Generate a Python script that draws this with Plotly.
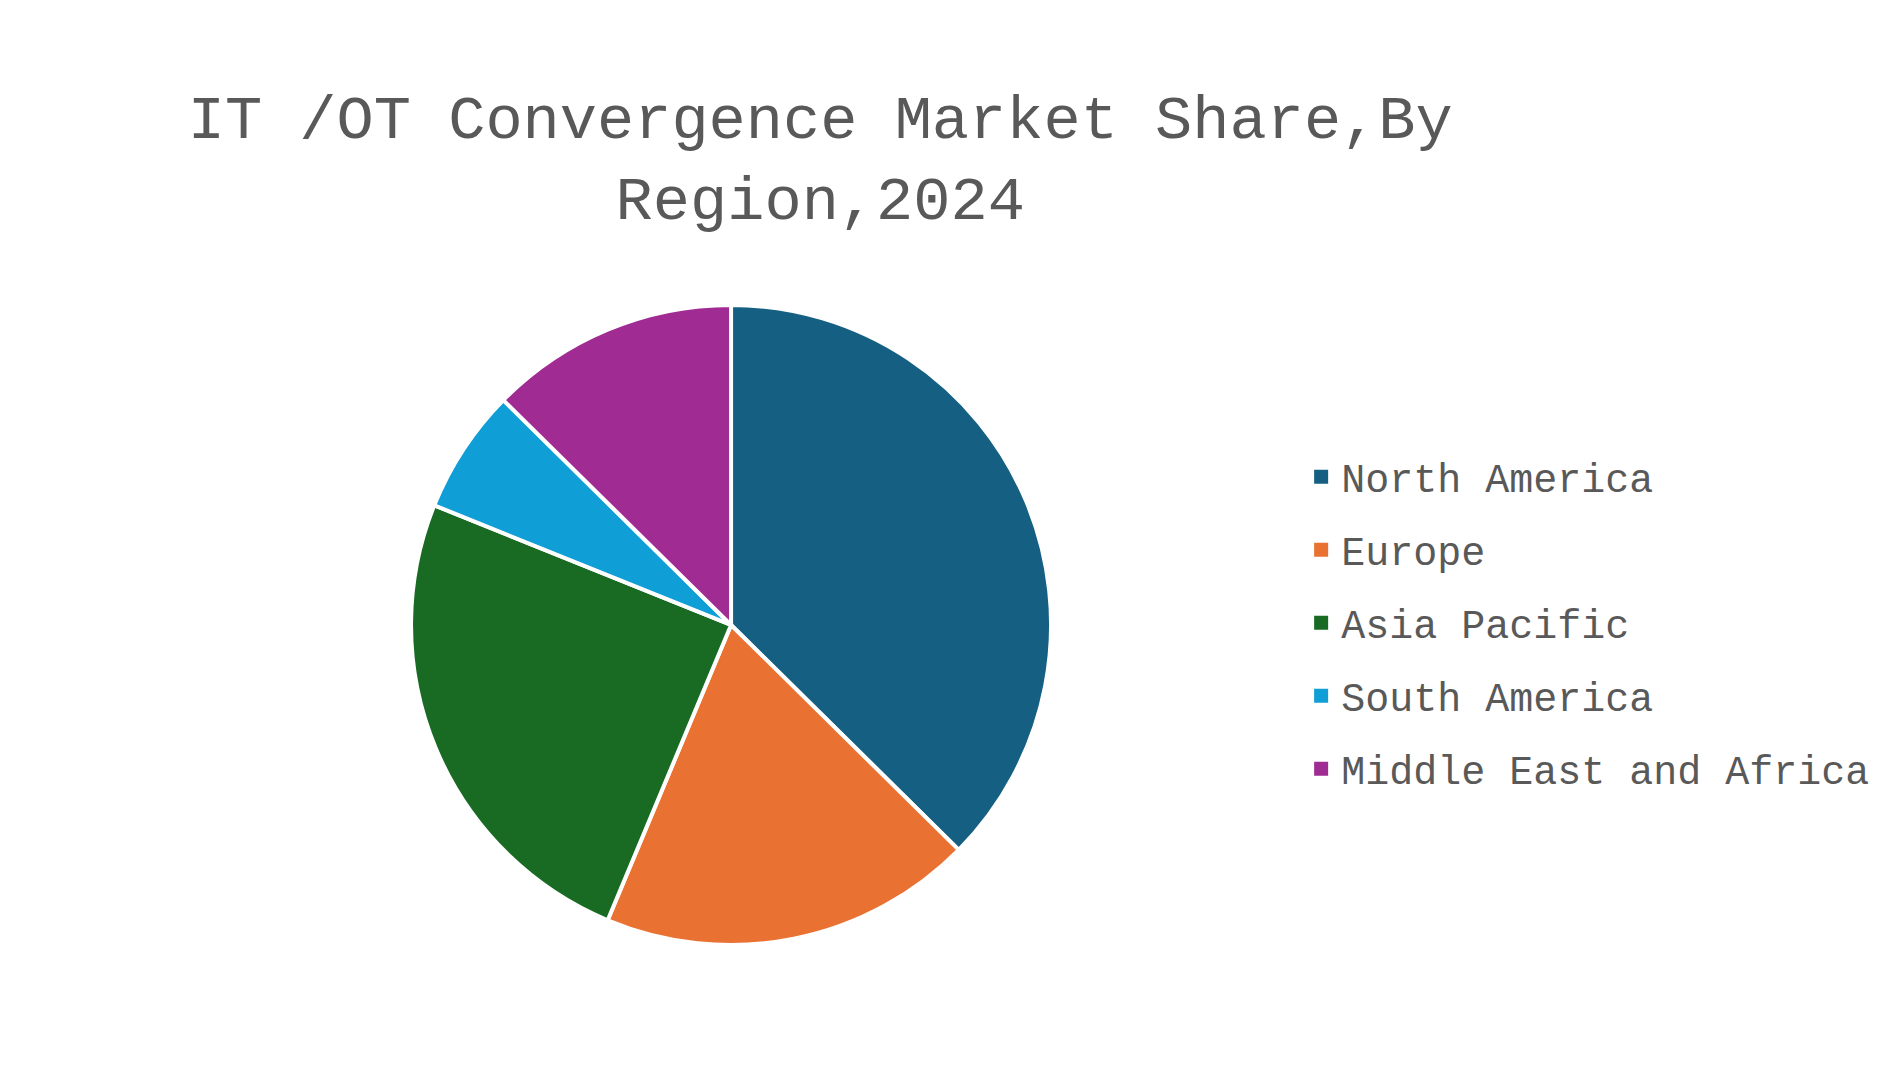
import plotly.graph_objects as go

regions = ['North America', 'Europe', 'Asia Pacific', 'South America',
           'Middle East and Africa']
share = [37.4, 18.9, 24.8, 6.3, 12.6]
colors = ['#156082', '#E97132', '#196B24', '#0F9ED5', '#A02B93']

title_text = 'IT /OT Convergence Market Share,By<br>Region,2024'
font_name = 'Liberation Mono, Courier New, monospace'
grey = '#595959'

fig = go.Figure()
fig.add_trace(go.Pie(labels=regions, values=share, sort=False,
                     direction='clockwise', rotation=0,
                     marker=dict(colors=colors, line=dict(color='white', width=4)),
                     textinfo='none', hoverinfo='label+percent',
                     showlegend=False,
                     domain=dict(x=[0.2121, 0.5490], y=[0.1235, 0.7222])))

# legend entries (one group each so the rows get spaced like the original)
for name, c in zip(regions, colors):
    fig.add_trace(go.Scatter(x=[None], y=[None], mode='markers', name=name,
                             legendgroup=name,
                             marker=dict(symbol='square', size=14, color=c)))

fig.update_layout(
    width=1900, height=1069,
    margin=dict(l=0, r=0, t=0, b=0),
    paper_bgcolor='white', plot_bgcolor='white',
    font=dict(family=font_name, color=grey),
    title=dict(text=title_text, x=0.4275, xanchor='center',
               y=1 - 130 / 1069, yanchor='top',
               font=dict(size=62, family=font_name, color=grey)),
    legend=dict(x=0.6806, xanchor='left', y=0.425, yanchor='middle',
                font=dict(size=40, family=font_name, color=grey),
                tracegroupgap=18, bgcolor='rgba(0,0,0,0)'),
    xaxis=dict(visible=False), yaxis=dict(visible=False),
)

fig.write_html('out.html')
